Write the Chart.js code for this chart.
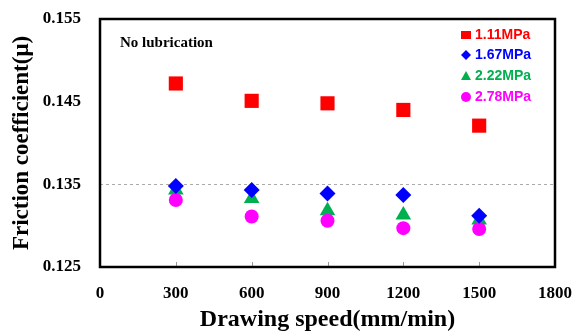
<!DOCTYPE html>
<html>
<head>
<meta charset="utf-8">
<script src="https://cdn.jsdelivr.net/npm/chart.js@4"></script>
<style>
  html, body { margin: 0; padding: 0; background: #fff; }
  #wrap { width: 576px; height: 334px; }
</style>
</head>
<body>
<div id="wrap"><canvas id="grafico"></canvas></div>
<script>
// drawing speed (mm/min)
const velocidades = [300, 600, 900, 1200, 1500];
const yTicks = [0.125, 0.135, 0.145, 0.155];

const p111 = [0.1472, 0.1451, 0.1448, 0.1440, 0.1421];
const p167 = [0.1348, 0.1343, 0.1339, 0.1337, 0.1312];
const p222 = [0.1343, 0.1333, 0.1318, 0.1313, 0.1307];
const p278 = [0.1331, 0.1311, 0.1306, 0.1297, 0.1296];

const nomes = ['1.11MPa', '1.67MPa', '2.22MPa', '2.78MPa'];
const cores = ['#FF0000', '#0000FF', '#00B050', '#FF00FF'];

function pontos(valores) {
    return velocidades.map((v, i) => ({ x: v, y: valores[i] }));
}

// frame, inner tick marks, note and legend
const extras = {
    id: 'extras',
    afterDatasetsDraw(chart) {
        const ctx = chart.ctx;
        const a = chart.chartArea;
        const x = chart.scales.x;
        ctx.save();
        ctx.strokeStyle = '#999';
        ctx.lineWidth = 1;
        for (let v of velocidades) {
            let px = Math.round(x.getPixelForValue(v)) + 0.5;
            ctx.beginPath();
            ctx.moveTo(px, a.bottom);
            ctx.lineTo(px, a.bottom - 5);
            ctx.stroke();
        }
        ctx.strokeStyle = '#000';
        ctx.lineWidth = 2.5;
        ctx.strokeRect(a.left, a.top, a.right - a.left, a.bottom - a.top);

        ctx.fillStyle = '#000';
        ctx.font = 'bold 15px "Liberation Serif"';
        ctx.textBaseline = 'middle';
        ctx.fillText('No lubrication', a.left + 20, 43);

        ctx.font = 'bold 14px "Liberation Sans"';
        const linhas = [35, 55, 76, 97];
        nomes.forEach((nome, i) => {
            let cy = linhas[i], cx = 466;
            ctx.fillStyle = cores[i];
            ctx.beginPath();
            if (i === 0) ctx.rect(cx - 5, cy - 4, 10, 8);
            if (i === 1) { ctx.moveTo(cx - 5, cy); ctx.lineTo(cx, cy - 5); ctx.lineTo(cx + 5, cy); ctx.lineTo(cx, cy + 5); }
            if (i === 2) { ctx.moveTo(cx, cy - 5); ctx.lineTo(cx + 5, cy + 4); ctx.lineTo(cx - 5, cy + 4); }
            if (i === 3) ctx.arc(cx, cy, 5, 0, Math.PI * 2);
            ctx.fill();
            ctx.fillText(nome, 475, cy);
        });
        ctx.restore();
    }
};

const estilos = ['rect', 'rectRot', 'triangle', 'circle'];
const raios = [10, 8, 9, 7];
const ordens = [0, 1, 3, 2];
const series = [p111, p167, p222, p278];

new Chart('grafico', {
    type: 'scatter',
    data: {
        datasets: series.map((s, i) => ({
            label: nomes[i],
            data: pontos(s),
            pointStyle: estilos[i],
            pointRadius: raios[i],
            pointHoverRadius: raios[i],
            backgroundColor: cores[i],
            borderColor: cores[i],
            borderWidth: 0,
            order: ordens[i],
        })),
    },
    options: {
        responsive: true,
        maintainAspectRatio: false,
        animation: false,
        layout: { padding: { left: 0, right: 21, top: 19, bottom: 0 } },
        plugins: { legend: { display: false }, tooltip: { enabled: false } },
        scales: {
            x: {
                type: 'linear',
                min: 0,
                max: 1800,
                afterFit: s => { s.height = 67; s.paddingLeft = 0; s.paddingRight = 0; },
                ticks: {
                    stepSize: 300,
                    padding: 16,
                    color: '#000',
                    font: { family: 'Liberation Serif', weight: 'bold', size: 17 },
                    callback: v => String(v),
                },
                grid: { display: false, drawTicks: false },
                border: { display: false },
                title: {
                    display: true,
                    text: 'Drawing speed(mm/min)',
                    color: '#000',
                    font: { family: 'Liberation Serif', weight: 'bold', size: 24 },
                    padding: { top: 0, bottom: 0 },
                },
            },
            y: {
                min: 0.125,
                max: 0.155,
                afterFit: s => { s.width = 100; s.paddingTop = 0; s.paddingBottom = 0; },
                afterBuildTicks: s => { s.ticks = yTicks.map(v => ({ value: v })); },
                ticks: {
                    padding: 19,
                    color: '#000',
                    font: { family: 'Liberation Serif', weight: 'bold', size: 17 },
                    callback: v => v.toFixed(3),
                },
                grid: {
                    drawTicks: false,
                    color: c => (c.tick && Math.abs(c.tick.value - 0.135) < 1e-6) ? '#aaa' : 'rgba(0,0,0,0)',
                    lineWidth: 1,
                },
                border: { display: false, dash: [3, 3] },
                title: {
                    display: true,
                    text: 'Friction coefficient(μ)',
                    color: '#000',
                    font: { family: 'Liberation Serif', weight: 'bold', size: 23 },
                    padding: { top: 8, bottom: 0 },
                },
            },
        },
    },
    plugins: [extras],
});
</script>
</body>
</html>
